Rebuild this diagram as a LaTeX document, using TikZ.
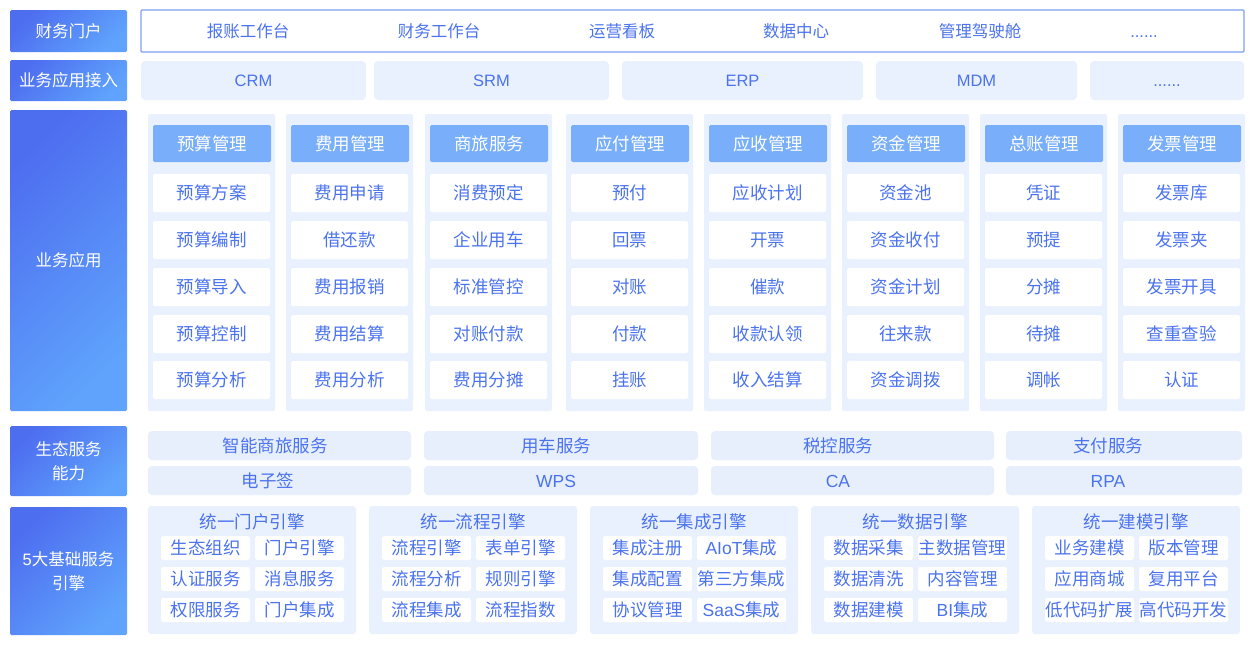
\documentclass[tikz,border=0pt]{standalone}
\usepackage{fontspec}
\setmainfont{Noto Sans CJK SC}
\newfontfamily\latf{Liberation Sans}
\definecolor{txt}{HTML}{4B73EE}
\definecolor{pale}{HTML}{EAF1FE}
\definecolor{pale2}{HTML}{E7EFFD}
\definecolor{hdr}{HTML}{78AEFA}
\definecolor{gA}{HTML}{4E6EF0}
\definecolor{gB}{HTML}{5FA3FC}
\definecolor{rim}{HTML}{7FA0F2}
\begin{document}
\begin{tikzpicture}[x=1pt,y=-1pt,
  every node/.style={inner sep=0pt, outer sep=0pt, anchor=north west, text=txt,
    font=\fontsize{17.5}{20}\selectfont},
  sidebox/.style={top color=gA, bottom color=gB, shading angle=45, text=white,
    align=center, font=\fontsize{16.5}{24}\selectfont, rounded corners=1.5pt, minimum width=117},
  portalbox/.style={draw=rim, line width=1.3pt, fill=white, rounded corners=1pt},
  lbl/.style={anchor=center},
  smalllbl/.style={anchor=center, font=\fontsize{16.5}{20}\selectfont},
  accbox/.style={fill=pale, rounded corners=4pt, minimum height=39, font=\fontsize{16.5}{20}\selectfont},
  panel/.style={fill=pale, rounded corners=2pt, minimum width=127, minimum height=297},
  hdrbox/.style={fill=hdr, text=white, rounded corners=1.5pt, minimum width=118, minimum height=37},
  itembox/.style={fill=white, rounded corners=1.5pt, minimum width=117, minimum height=38},
  ecobox/.style={fill=pale2, rounded corners=4pt, minimum height=29},
  engpanel/.style={fill=pale, rounded corners=3pt, minimum width=208, minimum height=128},
  subbox/.style={fill=white, rounded corners=2.5pt, minimum width=89, minimum height=24},
]
\useasboundingbox (0,0) rectangle (1252,646);
\fill[white] (0,0) rectangle (1252,646);

% left labels
\node[sidebox, minimum height=42] (L1) at (10,10) {财务门户};
\node[sidebox, minimum height=41] (L2) at (10,60) {业务应用接入};
\node[sidebox, minimum height=301] (L3) at (10,110) {业务应用};
\node[sidebox, minimum height=70] (L4) at (10,426) {生态服务\\能力};
\node[sidebox, minimum height=128] (L5) at (10,507) {{\latf 5}大基础服务\\引擎};

% portal row
\node[portalbox, minimum width=1103, minimum height=42] (portal) at (141,10) {};
\node[smalllbl] (t1) at (248,31) {报账工作台};
\node[smalllbl] (t2) at (439,31) {财务工作台};
\node[smalllbl] (t3) at (622,31) {运营看板};
\node[smalllbl] (t4) at (796,31) {数据中心};
\node[smalllbl] (t5) at (980,31) {管理驾驶舱};
\node[smalllbl] (t6) at (1144,31) {\vphantom{报}\latf ......};

% access row
\node[accbox, minimum width=225] (crm) at (141,61) {\latf CRM};
\node[accbox, minimum width=235] (srm) at (374,61) {\latf SRM};
\node[accbox, minimum width=241] (erp) at (622,61) {\latf ERP};
\node[accbox, minimum width=201] (mdm) at (876,61) {\latf MDM};
\node[accbox, minimum width=154] (more) at (1090,61) {\vphantom{报}\latf ......};

% business application panels
\foreach \i/\x/\h/\a/\b/\c/\d/\e in {
  1/148/预算管理/预算方案/预算编制/预算导入/预算控制/预算分析,
  2/286/费用管理/费用申请/借还款/费用报销/费用结算/费用分析,
  3/425/商旅服务/消费预定/企业用车/标准管控/对账付款/费用分摊,
  4/566/应付管理/预付/回票/对账/付款/挂账,
  5/704/应收管理/应收计划/开票/催款/收款认领/收入结算,
  6/842/资金管理/资金池/资金收付/资金计划/往来款/资金调拨,
  7/980/总账管理/凭证/预提/分摊/待摊/调帐,
  8/1118/发票管理/发票库/发票夹/发票开具/查重查验/认证}{
  \node[panel] (p\i) at (\x,114) {};
  \node[hdrbox] (h\i) at (\x+5,125) {\h};
  \node[itembox] (p\i-a) at (\x+5,174) {\a};
  \node[itembox] (p\i-b) at (\x+5,221) {\b};
  \node[itembox] (p\i-c) at (\x+5,268) {\c};
  \node[itembox] (p\i-d) at (\x+5,315) {\d};
  \node[itembox] (p\i-e) at (\x+5,361) {\e};
}

% ecosystem row
\node[ecobox, minimum width=263] (e1) at (148,431) {};
\node[ecobox, minimum width=274] (e2) at (424,431) {};
\node[ecobox, minimum width=283] (e3) at (711,431) {};
\node[ecobox, minimum width=236] (e4) at (1006,431) {};
\node[ecobox, minimum width=263] (f1) at (148,466) {};
\node[ecobox, minimum width=274] (f2) at (424,466) {};
\node[ecobox, minimum width=283] (f3) at (711,466) {};
\node[ecobox, minimum width=236] (f4) at (1006,466) {};
\node[lbl] (e1t) at (275,446) {智能商旅服务};
\node[lbl] (e2t) at (556,446) {用车服务};
\node[lbl] (e3t) at (838,446) {税控服务};
\node[lbl] (e4t) at (1108,446) {支付服务};
\node[lbl] (f1t) at (268,481) {电子签};
\node[lbl] (f2t) at (556,481) {\latf WPS};
\node[lbl] (f3t) at (838,481) {\latf CA};
\node[lbl] (f4t) at (1108,481) {\latf RPA};

% engine panels
\foreach \i/\x/\h/\a/\b/\c/\d/\e/\f in {
  1/148/统一门户引擎/生态组织/门户引擎/认证服务/消息服务/权限服务/门户集成,
  2/369/统一流程引擎/流程引擎/表单引擎/流程分析/规则引擎/流程集成/流程指数,
  3/590/统一集成引擎/集成注册/{\latf AIoT}集成/集成配置/第三方集成/协议管理/{\latf SaaS}集成,
  4/811/统一数据引擎/数据采集/主数据管理/数据清洗/内容管理/数据建模/{\latf BI}集成,
  5/1032/统一建模引擎/业务建模/版本管理/应用商城/复用平台/低代码扩展/高代码开发}{
  \node[engpanel] (g\i) at (\x,506) {};
  \node[lbl] (g\i-t) at (\x+104,522) {\h};
  \node[subbox] (g\i-a) at (\x+13,536) {\a};
  \node[subbox] (g\i-b) at (\x+107,536) {\b};
  \node[subbox] (g\i-c) at (\x+13,567) {\c};
  \node[subbox] (g\i-d) at (\x+107,567) {\d};
  \node[subbox] (g\i-e) at (\x+13,598) {\e};
  \node[subbox] (g\i-f) at (\x+107,598) {\f};
}
\end{tikzpicture}
\end{document}
